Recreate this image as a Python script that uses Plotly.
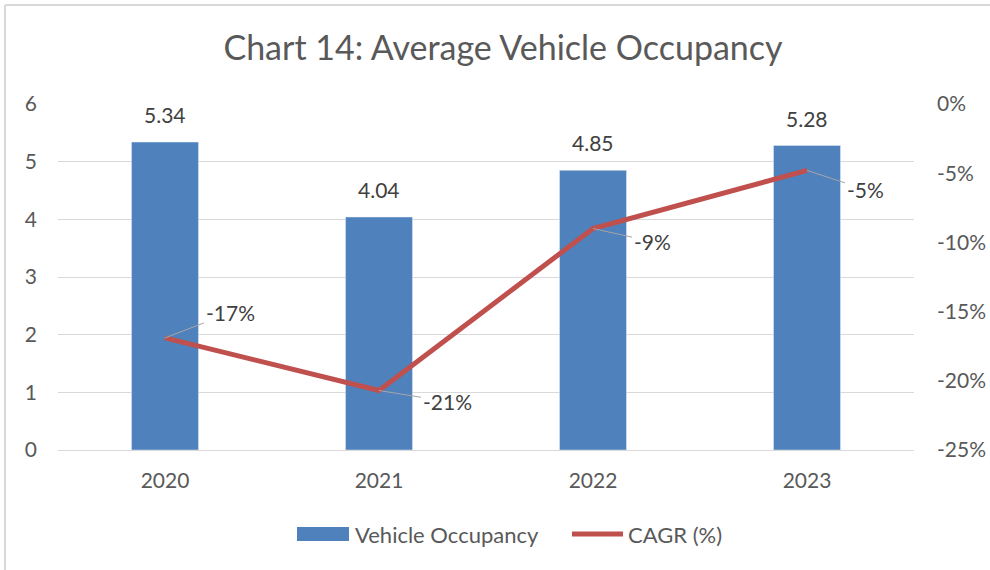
import plotly.graph_objects as go

years = ["2020", "2021", "2022", "2023"]
occupancy = [5.34, 4.04, 4.85, 5.28]
cagr = [-0.169, -0.207, -0.090, -0.048]
cagr_labels = ["-17%", "-21%", "-9%", "-5%"]
y_ticks = [0, 1, 2, 3, 4, 5, 6]
y2_ticks = [0, -0.05, -0.10, -0.15, -0.20, -0.25]
y2_tick_labels = ["0%", "-5%", "-10%", "-15%", "-20%", "-25%"]

FONT = "Lato"
TXT = "#595959"
LBL = "#404040"
BAR = "#4F81BD"
LINE = "#C0504D"
GRID = "#D9D9D9"

W, H = 990, 570
L, R, T, B = 58, 76, 104, 120

fig = go.Figure()
fig.add_trace(go.Bar(
    x=years, y=occupancy, name="Vehicle Occupancy",
    marker=dict(color=BAR), width=0.313, showlegend=False,
))
fig.add_trace(go.Scatter(
    x=years, y=cagr, name="CAGR (%)", yaxis="y2", mode="lines",
    line=dict(color=LINE, width=5), showlegend=False,
))

# bar value labels
for i, v in enumerate(occupancy):
    fig.add_annotation(x=i, y=v, text=f"{v:.2f}", showarrow=False,
                       yanchor="bottom", yshift=13,
                       font=dict(size=21, color=LBL, family=FONT))

# CAGR labels with leader lines
offsets = [(65, -25), (68, 11), (59, 13), (58, 19)]
for i, (v, lab, (ax, ay)) in enumerate(zip(cagr, cagr_labels, offsets)):
    fig.add_annotation(
        x=i, y=v, yref="y2", text=lab, showarrow=True, arrowhead=0,
        arrowcolor="#A6A6A6", arrowwidth=1, ax=ax, ay=ay,
        font=dict(size=21, color=LBL, family=FONT),
        standoff=0,
    )

pw, ph = W - L - R, H - T - B
def px(x): return (x - L) / pw
def py(y): return (H - B - y) / ph

# chart border (top and left edges visible)
fig.add_shape(type="line", xref="paper", yref="paper",
              x0=px(5), x1=px(990), y0=py(5), y1=py(5),
              line=dict(color="#D9D9D9", width=2))
fig.add_shape(type="line", xref="paper", yref="paper",
              x0=px(5), x1=px(5), y0=py(5), y1=py(570),
              line=dict(color="#D9D9D9", width=2))

# custom legend
fig.add_shape(type="rect", xref="paper", yref="paper",
              x0=px(297), x1=px(349), y0=py(541), y1=py(527),
              fillcolor=BAR, line=dict(width=0))
fig.add_shape(type="line", xref="paper", yref="paper",
              x0=px(572), x1=px(623), y0=py(534), y1=py(534),
              line=dict(color=LINE, width=5))
fig.add_annotation(xref="paper", yref="paper", x=px(353), y=py(534),
                   xanchor="left", yanchor="middle", showarrow=False,
                   text="Vehicle Occupancy", font=dict(size=22, color=TXT, family=FONT))
fig.add_annotation(xref="paper", yref="paper", x=px(626), y=py(534),
                   xanchor="left", yanchor="middle", showarrow=False,
                   text="CAGR (%)", font=dict(size=22, color=TXT, family=FONT))

fig.update_layout(
    width=W, height=H,
    margin=dict(l=L, r=R, t=T, b=B, autoexpand=False),
    paper_bgcolor="white", plot_bgcolor="white",
    title=dict(text="Chart 14: Average Vehicle Occupancy", x=px(503), xanchor="center",
               xref="paper", y=1 - 48 / H, yanchor="middle",
               font=dict(size=34, color=TXT, family=FONT)),
    font=dict(family=FONT, color=TXT, size=18),
    showlegend=False,
    xaxis=dict(type="category", showgrid=False, showline=True, linecolor=GRID, linewidth=1,
               ticks="", tickfont=dict(size=21, color=TXT), fixedrange=True,
               automargin=False, ticklabelstandoff=12),
    yaxis=dict(range=[0, 6], tickvals=y_ticks, showgrid=True, gridcolor=GRID,
               gridwidth=1, zeroline=False, ticks="", tickfont=dict(size=21, color=TXT),
               ticklabelstandoff=20, automargin=False),
    yaxis2=dict(range=[-0.25, 0], tickvals=y2_ticks, ticktext=y2_tick_labels,
                overlaying="y", side="right", showgrid=False, zeroline=False,
                ticks="", tickfont=dict(size=21, color=TXT), ticklabelstandoff=22,
                automargin=False),
)

fig.write_html("out.html", config={"displayModeBar": False},
               post_script="document.body.style.margin='0';")
